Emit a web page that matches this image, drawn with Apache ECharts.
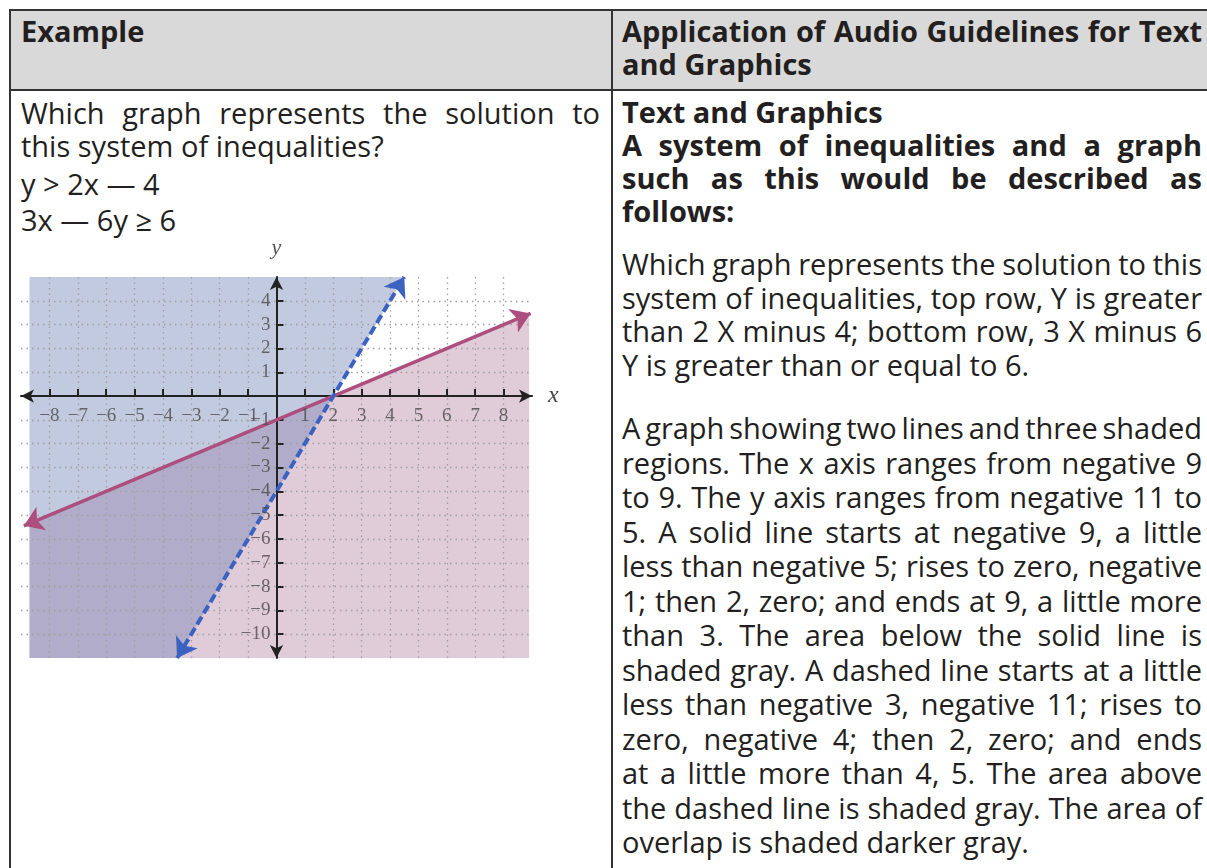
<!DOCTYPE html>
<html>
<head>
<meta charset="utf-8">
<script src="https://cdn.jsdelivr.net/npm/echarts@6/dist/echarts.min.js"></script>
<style>
  body { margin: 0; background: #fff; }
  .page { position: relative; width: 1207px; height: 868px; overflow: hidden;
          font-family: "Open Sans", sans-serif; color: #231f20; }
  .hdr { position: absolute; left: 9px; top: 9px; width: 1230px; height: 78px;
         background: #d9d9d9; border-top: 2px solid #333; border-bottom: 2px solid #333; }
  .vl { position: absolute; top: 9px; bottom: 0; width: 2px; background: #333; }
  .blk { position: absolute; font-size: 29px; line-height: 34px; }
  .blk div { white-space: nowrap; }
  .b { font-weight: 700; }
  #chart { position: absolute; left: 0; top: 230px; width: 600px; height: 450px; }
</style>
</head>
<body>
<div class="page">
  <div class="hdr"></div>
  <div class="vl" style="left:9px"></div>
  <div class="vl" style="left:611px"></div>

  <div class="blk b" style="left:21px; top:14px; width:579px;">
    <div>Example</div>
  </div>
  <div class="blk b" style="left:622px; top:14px; width:580px; line-height:33.4px;">
    <div class="j">Application of Audio Guidelines for Text</div>
    <div>and Graphics</div>
  </div>

  <div class="blk" style="left:21px; top:96px; width:579px; line-height:33px;">
    <div class="j">Which graph represents the solution to</div>
    <div>this system of inequalities?</div>
  </div>
  <div class="blk" style="left:21px; top:165.5px; width:579px; line-height:36px;">
    <div>y &gt; 2x — 4</div>
    <div>3x — 6y ≥ 6</div>
  </div>

  <div class="blk b" style="left:622px; top:94.5px; width:580px;">
    <div>Text and Graphics</div>
  </div>
  <div class="blk b" style="left:622px; top:128px; width:580px; line-height:33px;">
    <div class="j">A system of inequalities and a graph</div>
    <div class="j">such as this would be described as</div>
    <div>follows:</div>
  </div>
  <div class="blk" style="left:622px; top:247px; width:580px; line-height:33.5px;">
    <div class="j">Which graph represents the solution to this</div>
    <div class="j">system of inequalities, top row, Y is greater</div>
    <div class="j">than 2 X minus 4; bottom row, 3 X minus 6</div>
    <div>Y is greater than or equal to 6.</div>
  </div>
  <div class="blk" style="left:622px; top:411px; width:580px; line-height:34.5px;">
    <div class="j">A graph showing two lines and three shaded</div>
    <div class="j">regions. The x axis ranges from negative 9</div>
    <div class="j">to 9. The y axis ranges from negative 11 to</div>
    <div class="j">5. A solid line starts at negative 9, a little</div>
    <div class="j">less than negative 5; rises to zero, negative</div>
    <div class="j">1; then 2, zero; and ends at 9, a little more</div>
    <div class="j">than 3. The area below the solid line is</div>
    <div class="j">shaded gray. A dashed line starts at a little</div>
    <div class="j">less than negative 3, negative 11; rises to</div>
    <div class="j">zero, negative 4; then 2, zero; and ends</div>
    <div class="j">at a little more than 4, 5. The area above</div>
    <div class="j">the dashed line is shaded gray. The area of</div>
    <div>overlap is shaded darker gray.</div>
  </div>

  <div id="chart"></div>
</div>
<script>
// justify each full line by spreading (or squeezing) its word gaps
document.querySelectorAll('.j').forEach(el => {
  const full = el.parentNode.clientWidth;
  el.style.display = 'inline-block';
  const natural = el.getBoundingClientRect().width;
  el.style.display = 'block';
  const gaps = el.textContent.trim().split(/\s+/).length - 1;
  if (gaps > 0) el.style.wordSpacing = ((full - natural) / gaps) + 'px';
});

// axis ranges and labelled ticks
const xRange = [-9, 9];
const yRange = [-11, 5];
const xTicks = [-8, -7, -6, -5, -4, -3, -2, -1, 1, 2, 3, 4, 5, 6, 7, 8];
const yTicks = [-10, -9, -8, -7, -6, -5, -4, -3, -2, -1, 1, 2, 3, 4];

// 3x - 6y >= 6 (solid) and y > 2x - 4 (dashed), end points
const solidLine = [[-8.9, -5.45], [8.95, 3.47]];
const dashedLine = [[-3.5, -11], [4.5, 5]];

// shaded regions: below the solid line, above the dashed line
const belowSolid = [[-8.7, -5.35], [8.9, 3.45]];
const aboveDashed = [[-8.7, -11], [-3.5, -11], [4.5, 5]];

const minus = v => (v < 0 ? '\u2212' + (-v) : String(v));
const serif = '"Liberation Serif", "DejaVu Serif", serif';
const tickFont = { fontFamily: serif, fontSize: 19, color: '#4a4a4a' };

const chart = echarts.init(document.getElementById('chart'));
chart.setOption({
  animation: false,
  grid: { left: 21, top: 47, width: 511, height: 381 },
  xAxis: {
    type: 'value', min: xRange[0], max: xRange[1], interval: 1, z: 3,
    name: 'x', nameGap: 16,
    nameTextStyle: { fontFamily: serif, fontStyle: 'italic', fontSize: 24, color: '#444' },
    axisLine: { onZero: true, symbol: ['arrow', 'arrow'], symbolSize: [10, 13],
                lineStyle: { color: '#222', width: 2 } },
    axisTick: { inside: true, length: 7, customValues: xTicks, lineStyle: { color: '#222', width: 2 } },
    axisLabel: { show: false },
    splitLine: { lineStyle: { type: [1.5, 4], color: '#a0a0a0', width: 1.3 } }
  },
  yAxis: {
    type: 'value', min: yRange[0], max: yRange[1], interval: 1, z: 3,
    name: 'y', nameGap: 18,
    nameTextStyle: { fontFamily: serif, fontStyle: 'italic', fontSize: 22, color: '#555' },
    axisLine: { onZero: true, symbol: ['arrow', 'arrow'], symbolSize: [10, 13],
                lineStyle: { color: '#222', width: 2 } },
    axisTick: { inside: true, length: 7, customValues: yTicks, lineStyle: { color: '#222', width: 2 } },
    axisLabel: { show: false },
    splitLine: { lineStyle: { type: [1.5, 4], color: '#a0a0a0', width: 1.3 } }
  },
  series: [
    {
      type: 'line', data: belowSolid, showSymbol: false, z: 1,
      lineStyle: { width: 0 },
      areaStyle: { color: '#e0cbd8', opacity: 1, origin: 'start' }
    },
    {
      type: 'line', data: aboveDashed, showSymbol: false, z: 2,
      lineStyle: { width: 0 },
      areaStyle: { color: 'rgba(110,129,181,0.42)', opacity: 1, origin: 'end' }
    },
    {
      // tick numbers sitting on the x axis
      type: 'scatter', symbolSize: 0, z: 6, silent: true,
      data: xTicks.map(v => [v, 0]),
      label: { show: true, position: 'bottom', distance: 10,
               formatter: p => minus(p.value[0]), ...tickFont }
    },
    {
      // tick numbers beside the y axis
      type: 'scatter', symbolSize: 0, z: 6, silent: true,
      data: yTicks.map(v => [0, v]),
      label: { show: true, position: 'left', distance: 6,
               formatter: p => minus(p.value[1]), ...tickFont }
    },
    {
      type: 'lines', coordinateSystem: 'cartesian2d', z: 5,
      symbol: ['arrow', 'arrow'], symbolSize: 19,
      data: [{ coords: solidLine }],
      lineStyle: { color: '#ad4f7e', width: 3.5, opacity: 1 }
    },
    {
      type: 'lines', coordinateSystem: 'cartesian2d', z: 5,
      symbol: ['arrow', 'arrow'], symbolSize: 19,
      data: [{ coords: dashedLine }],
      lineStyle: { color: '#3b62c0', width: 4, type: [9, 4], opacity: 1 }
    }
  ]
});
</script>
</body>
</html>
